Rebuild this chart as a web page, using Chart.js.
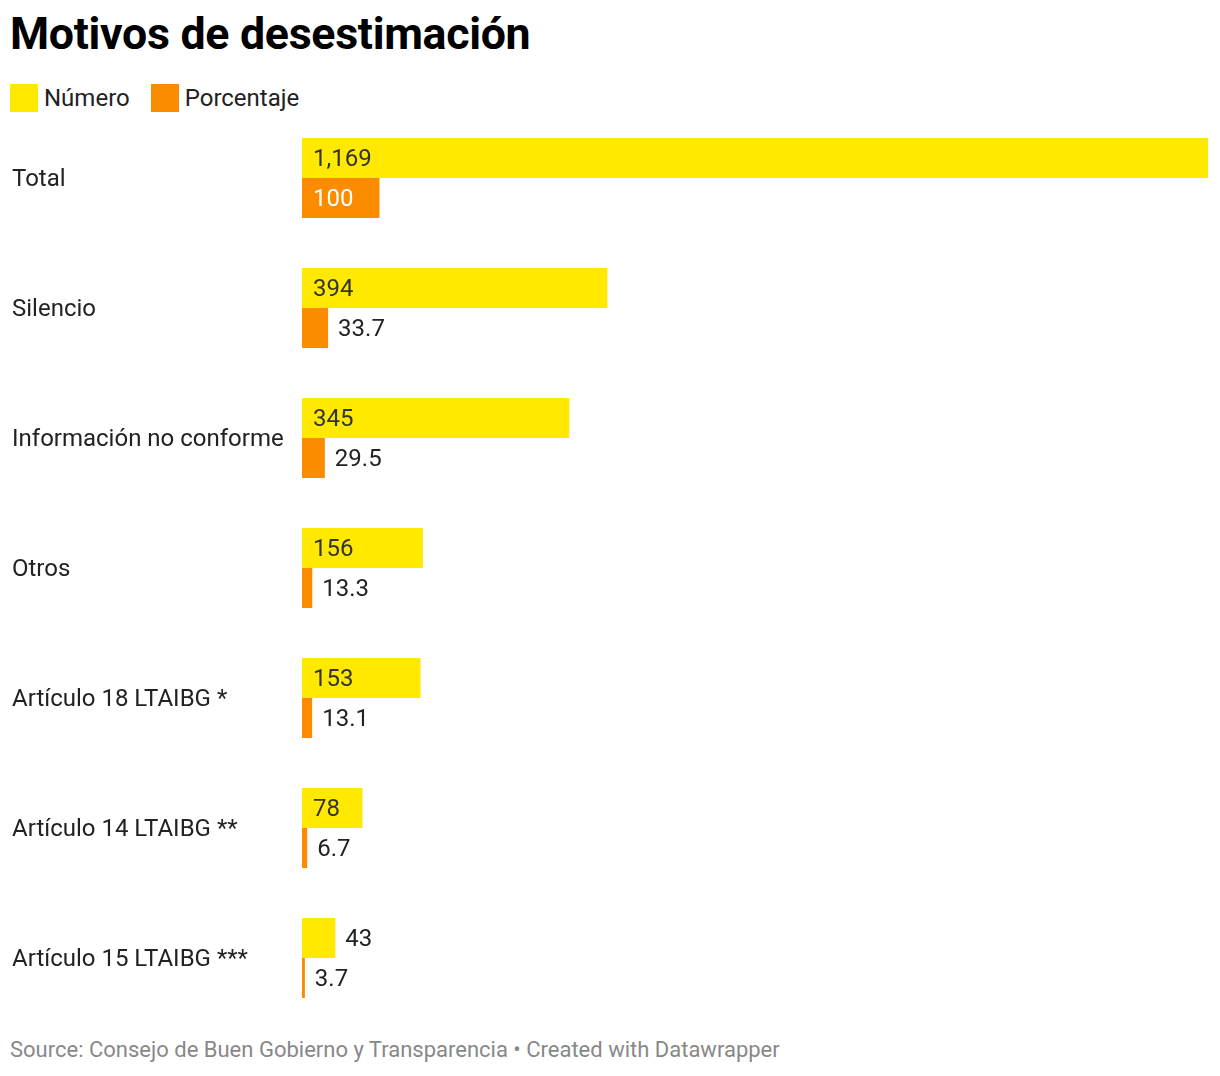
<!DOCTYPE html>
<html>
<head>
<meta charset="utf-8">
<script src="https://cdn.jsdelivr.net/npm/chart.js@4/dist/chart.umd.min.js"></script>
<style>
  html, body { margin: 0; padding: 0; background: #fff; }
  body { width: 1220px; height: 1076px; position: relative; font-family: Roboto, sans-serif; color: #333; }
  #title { position: absolute; left: 10px; top: 6px; font-size: 44.7px; font-weight: 700; color: #000; margin: 0; line-height: 56px; letter-spacing: -0.3px; }
  #legend { position: absolute; left: 10px; top: 84px; font-size: 24px; display: flex; align-items: center; height: 28px; color: #222; }
  .sw { width: 28px; height: 28px; display: inline-block; margin-right: 6px; }
  .item { display: flex; align-items: center; margin-right: 21px; }
  #wrap { position: absolute; left: 0; top: 113px; width: 1220px; height: 910px; }
  #source { position: absolute; left: 10px; top: 1037px; font-size: 22px; color: #888; }
</style>
</head>
<body>
<h1 id="title">Motivos de desestimación</h1>
<div id="legend">
  <span class="item"><span class="sw" style="background:#ffe900"></span>Número</span>
  <span class="item"><span class="sw" style="background:#fb8c00"></span>Porcentaje</span>
</div>
<div id="wrap"><canvas id="c"></canvas></div>
<div id="source">Source: Consejo de Buen Gobierno y Transparencia • Created with Datawrapper</div>
<script>
const categories = ["Total", "Silencio", "Información no conforme", "Otros", "Artículo 18 LTAIBG *", "Artículo 14 LTAIBG **", "Artículo 15 LTAIBG ***"];
const numero = [1169, 394, 345, 156, 153, 78, 43];
const porcentaje = [100, 33.7, 29.5, 13.3, 13.1, 6.7, 3.7];
const numeroLabels = ["1,169", "394", "345", "156", "153", "78", "43"];
const porcentajeLabels = ["100", "33.7", "29.5", "13.3", "13.1", "6.7", "3.7"];

const YELLOW = '#ffe900';
const ORANGE = '#fb8c00';

const valueLabels = {
  id: 'valueLabels',
  afterDatasetsDraw(chart) {
    const ctx = chart.ctx;
    const dy = 2;
    ctx.save();
    ctx.font = '24px Roboto';
    ctx.textBaseline = 'middle';
    ctx.textAlign = 'left';
    const ys = chart.scales.y;
    ctx.fillStyle = '#222';
    categories.forEach((c, i) => {
      ctx.fillText(c, 12, ys.getPixelForValue(i) + dy);
    });
    chart.data.datasets.forEach((ds, di) => {
      const meta = chart.getDatasetMeta(di);
      const labels = di === 0 ? numeroLabels : porcentajeLabels;
      meta.data.forEach((el, i) => {
        const txt = labels[i];
        const w = ctx.measureText(txt).width;
        const barW = el.x - el.base;
        if (w + 22 <= barW) {
          ctx.fillStyle = di === 0 ? '#333' : '#fff';
          ctx.fillText(txt, el.base + 11, el.y + dy);
        } else {
          ctx.fillStyle = '#222';
          ctx.fillText(txt, el.x + 10, el.y + dy);
        }
      });
    });
    ctx.restore();
  }
};

new Chart(document.getElementById('c'), {
  type: 'bar',
  data: {
    labels: categories,
    datasets: [
      { label: 'Número', data: numero, backgroundColor: YELLOW },
      { label: 'Porcentaje', data: porcentaje, backgroundColor: ORANGE }
    ]
  },
  options: {
    indexAxis: 'y',
    responsive: true,
    maintainAspectRatio: false,
    animation: false,
    layout: { padding: { left: 302, right: 12, top: 0, bottom: 0 } },
    datasets: { bar: { categoryPercentage: 80 / 130, barPercentage: 1 } },
    plugins: { legend: { display: false }, tooltip: { enabled: false } },
    scales: {
      x: { display: false, min: 0, max: 1169 },
      y: { display: false }
    }
  },
  plugins: [valueLabels]
});
</script>
</body>
</html>
